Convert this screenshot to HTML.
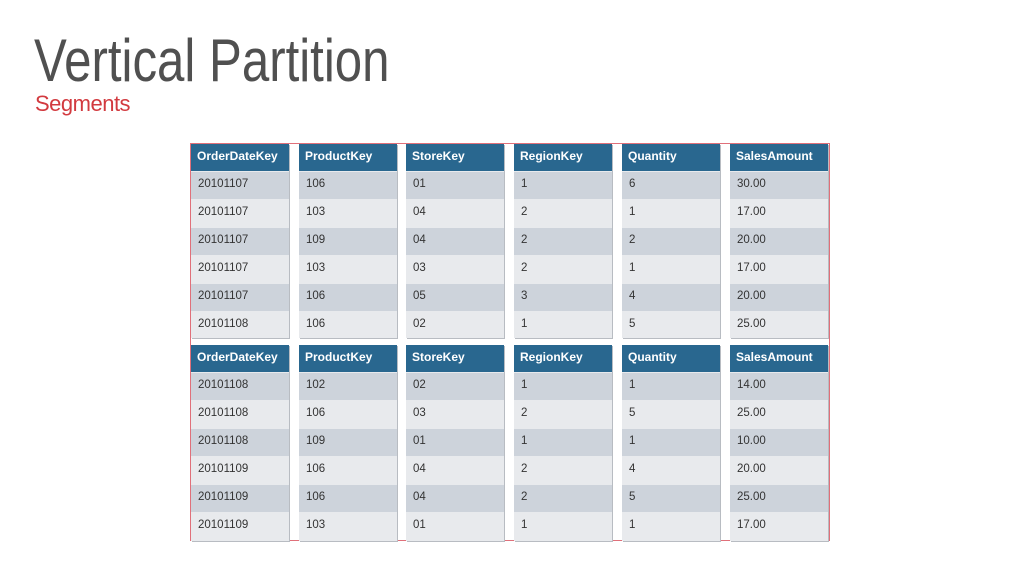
<!DOCTYPE html>
<html><head><meta charset="utf-8"><style>
body{margin:0;width:1023px;height:575px;background:#fff;position:relative;overflow:hidden;font-family:"Liberation Sans",sans-serif}
#title{position:absolute;left:34px;top:26px;font-size:60px;color:#505050;transform-origin:0 0;transform:scaleX(0.82);white-space:nowrap;font-weight:300}
#sub{position:absolute;left:35px;top:91px;font-size:22px;color:#d23a3f;letter-spacing:-0.5px}
#frame{position:absolute;left:190px;top:143px;width:640px;height:398px;border:1px solid #e0707a;box-sizing:border-box}
.col{position:absolute;background:#e8eaed;box-shadow:1px 1px 0 #b8bcc2}
.hd{position:absolute;left:0;top:0;right:0;height:27px;background:#29678f;color:#fff;font-weight:bold;font-size:12px;line-height:24px;padding-left:6px;box-sizing:border-box}
.cell{position:absolute;left:0;right:0;height:27px;font-size:11.5px;color:#333;padding-left:7px;box-sizing:border-box;line-height:24px}
.dk{background:#cdd3db}
</style></head><body>
<div id="title">Vertical Partition</div>
<div id="sub">Segments</div>
<div id="frame"></div>
<script>
const headers=["OrderDateKey","ProductKey","StoreKey","RegionKey","Quantity","SalesAmount"];
const seg1=[["20101107","20101107","20101107","20101107","20101107","20101108"],["106","103","109","103","106","106"],["01","04","04","03","05","02"],["1","2","2","2","3","1"],["6","1","2","1","4","5"],["30.00","17.00","20.00","17.00","20.00","25.00"]];
const seg2=[["20101108","20101108","20101108","20101109","20101109","20101109"],["102","106","109","106","106","103"],["02","03","01","04","04","01"],["1","2","1","2","2","1"],["1","5","1","4","5","1"],["14.00","25.00","10.00","20.00","25.00","17.00"]];
const colX=[191,299,406,514,622,730];
const segs=[seg1,seg2];
const segY=[144,345];
segs.forEach((seg,s)=>{
  headers.forEach((h,c)=>{
    const col=document.createElement('div');
    col.className='col';
    
    
    col.style.left=colX[c]+'px';col.style.top=segY[s]+'px';col.style.width='98px';col.style.height=(s==0?194:196)+'px';
    const hd=document.createElement('div');
    hd.className='hd';hd.textContent=h;
    
    
    col.appendChild(hd);
    seg[c].forEach((v,r)=>{
      const cell=document.createElement('div');
      cell.className='cell'+(r%2==0?' dk':'');
      cell.style.top=(28+r*28)+'px';
      cell.textContent=v;
      
      
      col.appendChild(cell);
    });
    document.body.appendChild(col);
  });
});
</script>
</body></html>
